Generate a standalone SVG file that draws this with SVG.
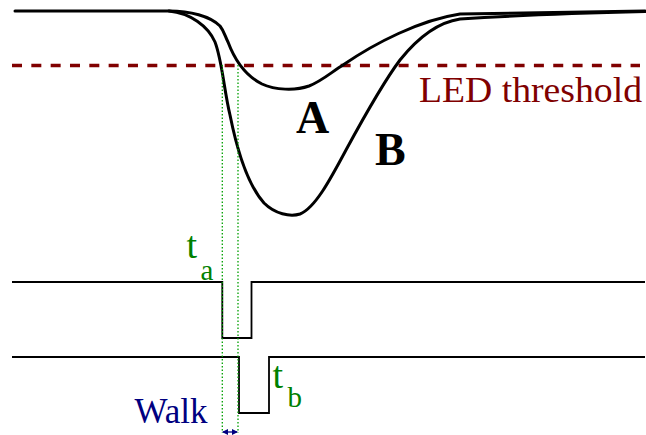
<svg xmlns="http://www.w3.org/2000/svg" width="646" height="435" viewBox="0 0 646 435">
  <style>
    .curve { fill: none; stroke: #000; stroke-width: 3; stroke-linejoin: round; stroke-linecap: round; }
    .pulse { fill: none; stroke: #000; stroke-width: 1.8; }
    .thresh { fill: none; stroke: #800000; stroke-width: 3.5; stroke-dasharray: 10 9.33; }
    .dots { fill: none; stroke: #00a000; stroke-width: 1.3; stroke-dasharray: 1.5 2; }
  </style>
  <defs>
    <marker id="ah" viewBox="0 0 6 6" refX="5" refY="3" markerWidth="6" markerHeight="6" orient="auto-start-reverse" markerUnits="userSpaceOnUse">
      <path d="M0,0 L6,3 L0,6 Z" fill="#000080"/>
    </marker>
  </defs>
  <rect width="646" height="435" fill="#fff"/>

  <g id="threshold">
    <line class="thresh" x1="12" y1="65.5" x2="640" y2="65.5"/>
    <text x="419" y="102" font-family="Liberation Serif" font-size="36.5" fill="#800000" textLength="223" lengthAdjust="spacingAndGlyphs">LED threshold</text>
  </g>

  <g id="curveA">
    <path class="curve" d="M15,11 H169 C190,11 210,16 220,26 C224,31 225,36 228,42 C234,58 244,75 262,84 C275,90 295,91 309,86 C322,81 333,71 343,65 C375,43 420,20 460,14 L645,11"/>
    <text x="296" y="133" font-family="Liberation Serif" font-size="46" font-weight="bold" fill="#000">A</text>
  </g>

  <g id="curveB">
    <path class="curve" d="M169,11 C190,13 208,26 215,42 C222,60 224,90 230,115 C237,150 248,185 264,203 C275,214 290,217 300,214 C315,208 330,180 346,150 C365,115 385,80 400,60 C420,35 440,22 460,19 C520,15 580,13 645,11.5"/>
    <text x="375" y="165" font-family="Liberation Serif" font-size="46" font-weight="bold" fill="#000">B</text>
  </g>

  <g id="pulseA">
    <path class="pulse" d="M12,282 H222.3 V338 H251.5 V282 H645"/>
    <text x="186.5" y="258" font-family="Liberation Serif" font-size="38" fill="#008000">t</text>
    <text x="200.5" y="280" font-family="Liberation Serif" font-size="29" fill="#008000">a</text>
  </g>

  <g id="pulseB">
    <path class="pulse" d="M12,357 H239 V413 H269 V357 H645"/>
    <text x="272.5" y="388" font-family="Liberation Serif" font-size="38" fill="#008000">t</text>
    <text x="287.5" y="407" font-family="Liberation Serif" font-size="29" fill="#008000">b</text>
  </g>

  <g id="connectors">
    <line class="dots" x1="222.3" y1="65" x2="222.3" y2="433"/>
    <line class="dots" x1="238" y1="65" x2="238" y2="433"/>
    <line x1="223" y1="432" x2="237" y2="432" stroke="#000080" stroke-width="1.3" marker-start="url(#ah)" marker-end="url(#ah)"/>
  </g>

  <g id="walk">
    <text x="134.5" y="423" font-family="Liberation Serif" font-size="35" fill="#000080">Walk</text>
  </g>
</svg>
